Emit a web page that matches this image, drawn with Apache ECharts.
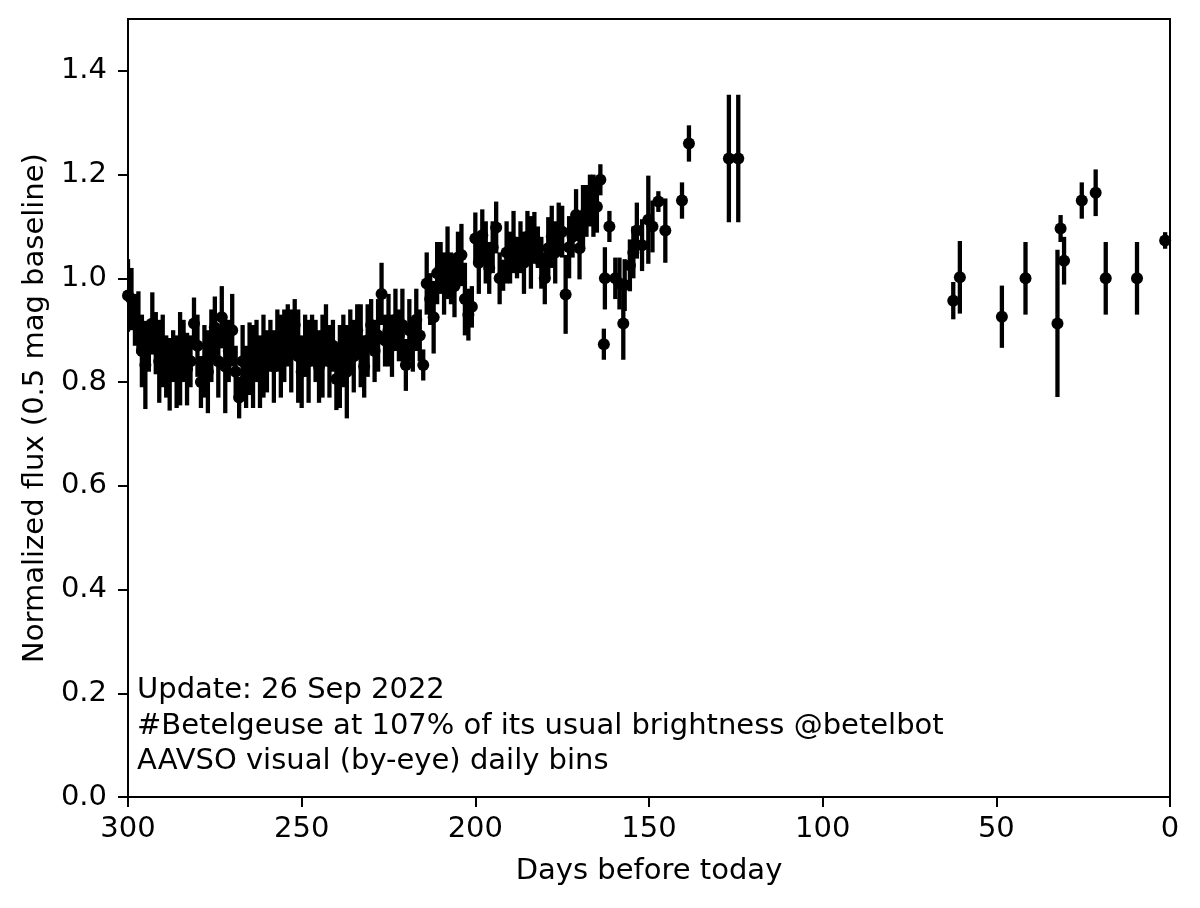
<!DOCTYPE html>
<html>
<head>
<meta charset="utf-8">
<script src="https://cdn.jsdelivr.net/npm/echarts@6/dist/echarts.min.js"></script>
<style>
  html, body { margin: 0; padding: 0; background: #fff; }
  #main { width: 1200px; height: 908px; }
</style>
</head>
<body>
<div id="main"></div>
<script>
// days before today, normalized flux, error (half-width)
const days = [300, 299, 298, 297, 296, 295, 294, 293, 292, 291, 290, 289, 288, 287, 286, 285, 284, 283, 282, 281,
  280, 279, 278, 277, 276, 275, 274, 273, 272, 271, 270, 269, 268, 267, 266, 265, 264, 263, 262, 261,
  260, 259, 258, 257, 256, 255, 254, 253, 252, 251, 250, 249, 248, 247, 246, 245, 244, 243, 242, 241,
  240, 239, 238, 237, 236, 235, 234, 233, 232, 231, 230, 229, 228, 227, 226, 225, 224, 223, 222, 221,
  220, 219, 218, 217, 216, 215, 214, 213, 212, 211, 210, 209, 208, 207, 206, 205, 204, 203, 202, 201,
  200, 199, 198, 197, 196, 195, 194, 193, 192, 191, 190, 189, 188, 187, 186, 185, 184, 183, 182, 181,
  180, 179, 178, 177, 176, 175, 174, 173, 172, 171, 170, 169, 168, 167, 166, 165, 164, 163, 162.7, 161.4,
  159.7, 158.5, 157.4, 157, 155.5, 154.5, 153.5, 152, 150.2, 149, 147.3, 145.3, 140.5, 138.5, 127, 124.3,
  62.4, 60.5, 48.4, 41.6, 32.4, 31.5, 30.5, 25.4, 21.4, 18.5, 9.5, 1.4];
const flux = [0.967, 0.96, 0.92, 0.915, 0.86, 0.833, 0.87, 0.913, 0.875, 0.84, 0.86, 0.83, 0.815, 0.85, 0.82, 0.845, 0.86, 0.825, 0.84, 0.913,
  0.87, 0.80, 0.84, 0.82, 0.87, 0.905, 0.84, 0.925, 0.83, 0.86, 0.90, 0.82, 0.77, 0.84, 0.81, 0.845, 0.83, 0.86, 0.82, 0.85,
  0.84, 0.87, 0.83, 0.88, 0.85, 0.87, 0.89, 0.86, 0.91, 0.85, 0.82, 0.87, 0.84, 0.88, 0.86, 0.83, 0.85, 0.89, 0.84, 0.87,
  0.806, 0.83, 0.86, 0.82, 0.88, 0.85, 0.90, 0.87, 0.83, 0.88, 0.91, 0.86, 0.89, 0.97, 0.88, 0.90, 0.87, 0.92, 0.89, 0.91,
  0.833, 0.90, 0.87, 0.92, 0.89, 0.833, 0.99, 0.96, 0.925, 1.01, 1.02, 0.99, 1.03, 1.00, 0.985, 1.04, 1.045, 0.96, 0.93, 0.945,
  1.077, 1.03, 1.083, 1.05, 1.02, 1.06, 1.098, 1.00, 1.006, 1.05, 1.04, 1.07, 1.04, 1.06, 1.03, 1.08, 1.05, 1.078, 1.06, 1.03,
  1.00, 1.058, 1.08, 1.05, 1.096, 1.09, 0.969, 1.06, 1.08, 1.122, 1.058, 1.12, 1.13, 1.15, 1.14, 1.138, 1.19, 0.873, 1.00, 1.10,
  1.00, 0.99, 0.913, 0.987, 1.025, 1.05, 1.092, 1.064, 1.113, 1.10, 1.148, 1.092, 1.15, 1.26, 1.231, 1.231,
  0.957, 1.002, 0.926, 1.00, 0.913, 1.096, 1.034, 1.15, 1.165, 1.00, 1.00, 1.073];
const errs = [0.07, 0.06, 0.05, 0.06, 0.07, 0.085, 0.05, 0.06, 0.06, 0.08, 0.07, 0.06, 0.07, 0.05, 0.07, 0.09, 0.06, 0.07, 0.05, 0.05,
  0.06, 0.05, 0.07, 0.08, 0.07, 0.06, 0.07, 0.06, 0.09, 0.06, 0.07, 0.05, 0.04, 0.07, 0.06, 0.07, 0.08, 0.06, 0.07, 0.08,
  0.06, 0.05, 0.07, 0.06, 0.08, 0.07, 0.06, 0.08, 0.05, 0.09, 0.07, 0.06, 0.08, 0.05, 0.06, 0.07, 0.08, 0.06, 0.07, 0.05,
  0.06, 0.08, 0.07, 0.09, 0.06, 0.07, 0.05, 0.08, 0.06, 0.07, 0.05, 0.06, 0.07, 0.06, 0.05, 0.07, 0.06, 0.06, 0.05, 0.07,
  0.05, 0.06, 0.05, 0.06, 0.05, 0.03, 0.06, 0.05, 0.07, 0.06, 0.05, 0.06, 0.07, 0.05, 0.06, 0.05, 0.06, 0.07, 0.05, 0.04,
  0.05, 0.06, 0.05, 0.06, 0.05, 0.05, 0.05, 0.05, 0.03, 0.06, 0.05, 0.06, 0.04, 0.05, 0.06, 0.05, 0.07, 0.05, 0.04, 0.05,
  0.05, 0.06, 0.06, 0.06, 0.05, 0.05, 0.076, 0.06, 0.04, 0.05, 0.06, 0.06, 0.05, 0.05, 0.06, 0.05, 0.03, 0.03, 0.06, 0.03,
  0.04, 0.05, 0.07, 0.05, 0.05, 0.05, 0.054, 0.05, 0.085, 0.05, 0.02, 0.062, 0.035, 0.035, 0.123, 0.123,
  0.036, 0.07, 0.06, 0.07, 0.142, 0.026, 0.046, 0.035, 0.045, 0.07, 0.07, 0.016];

const xTicks = [0, 50, 100, 150, 200, 250, 300];
const yTicks = [0, 0.2, 0.4, 0.6, 0.8, 1.0, 1.2, 1.4];
const noteLines = [
  'Update: 26 Sep 2022',
  '#Betelgeuse at 107% of its usual brightness @betelbot',
  'AAVSO visual (by-eye) daily bins'
];

const points = days.map((d, i) => [d, flux[i], errs[i]]);
const FONT = "'DejaVu Sans', sans-serif";

const chart = echarts.init(document.getElementById('main'), null, { renderer: 'canvas' });

chart.setOption({
  backgroundColor: '#fff',
  animation: false,
  grid: { left: 128, right: 30, top: 19, bottom: 111, show: true, borderColor: '#000', borderWidth: 2, backgroundColor: 'transparent' },
  xAxis: {
    type: 'value', inverse: true, min: 0, max: 300, interval: 50,
    name: 'Days before today', nameLocation: 'middle', nameGap: 60,
    nameTextStyle: { color: '#000', fontSize: 29, fontFamily: FONT },
    axisLine: { show: true, onZero: false, lineStyle: { color: '#000', width: 2 } },
    axisTick: { show: true, length: 10, lineStyle: { color: '#000', width: 2 }, customValues: xTicks },
    axisLabel: { color: '#000', fontSize: 29, fontFamily: FONT, margin: 18, customValues: xTicks },
    splitLine: { show: false }
  },
  yAxis: {
    type: 'value', min: 0, max: 1.5, interval: 0.2,
    name: 'Normalized flux (0.5 mag baseline)', nameLocation: 'middle', nameGap: 78,
    nameTextStyle: { color: '#000', fontSize: 29, fontFamily: FONT },
    axisLine: { show: true, onZero: false, lineStyle: { color: '#000', width: 2 } },
    axisTick: { show: true, length: 10, lineStyle: { color: '#000', width: 2 }, customValues: yTicks },
    axisLabel: { color: '#000', fontSize: 29, fontFamily: FONT, margin: 21, customValues: yTicks,
      formatter: v => v.toFixed(1) },
    splitLine: { show: false }
  },
  graphic: [{
    type: 'text', left: 137, top: 673, z: 10,
    style: { text: noteLines.join('\n'), fill: '#000', font: '29px ' + FONT, lineHeight: 35.5 }
  }],
  series: [
    {
      type: 'custom',
      data: points,
      encode: { x: 0, y: 1 },
      clip: true,
      renderItem: (params, api) => {
        const x = api.value(0), y = api.value(1), e = api.value(2);
        const lo = api.coord([x, y - e]);
        const hi = api.coord([x, y + e]);
        return {
          type: 'line',
          shape: { x1: lo[0], y1: lo[1], x2: hi[0], y2: hi[1] },
          style: { stroke: '#000', lineWidth: 4.3 }
        };
      },
      z: 2
    },
    {
      type: 'scatter',
      data: points.map(p => [p[0], p[1]]),
      symbol: 'circle', symbolSize: 12,
      itemStyle: { color: '#000', opacity: 1 },
      z: 3
    }
  ]
});
</script>
</body>
</html>
